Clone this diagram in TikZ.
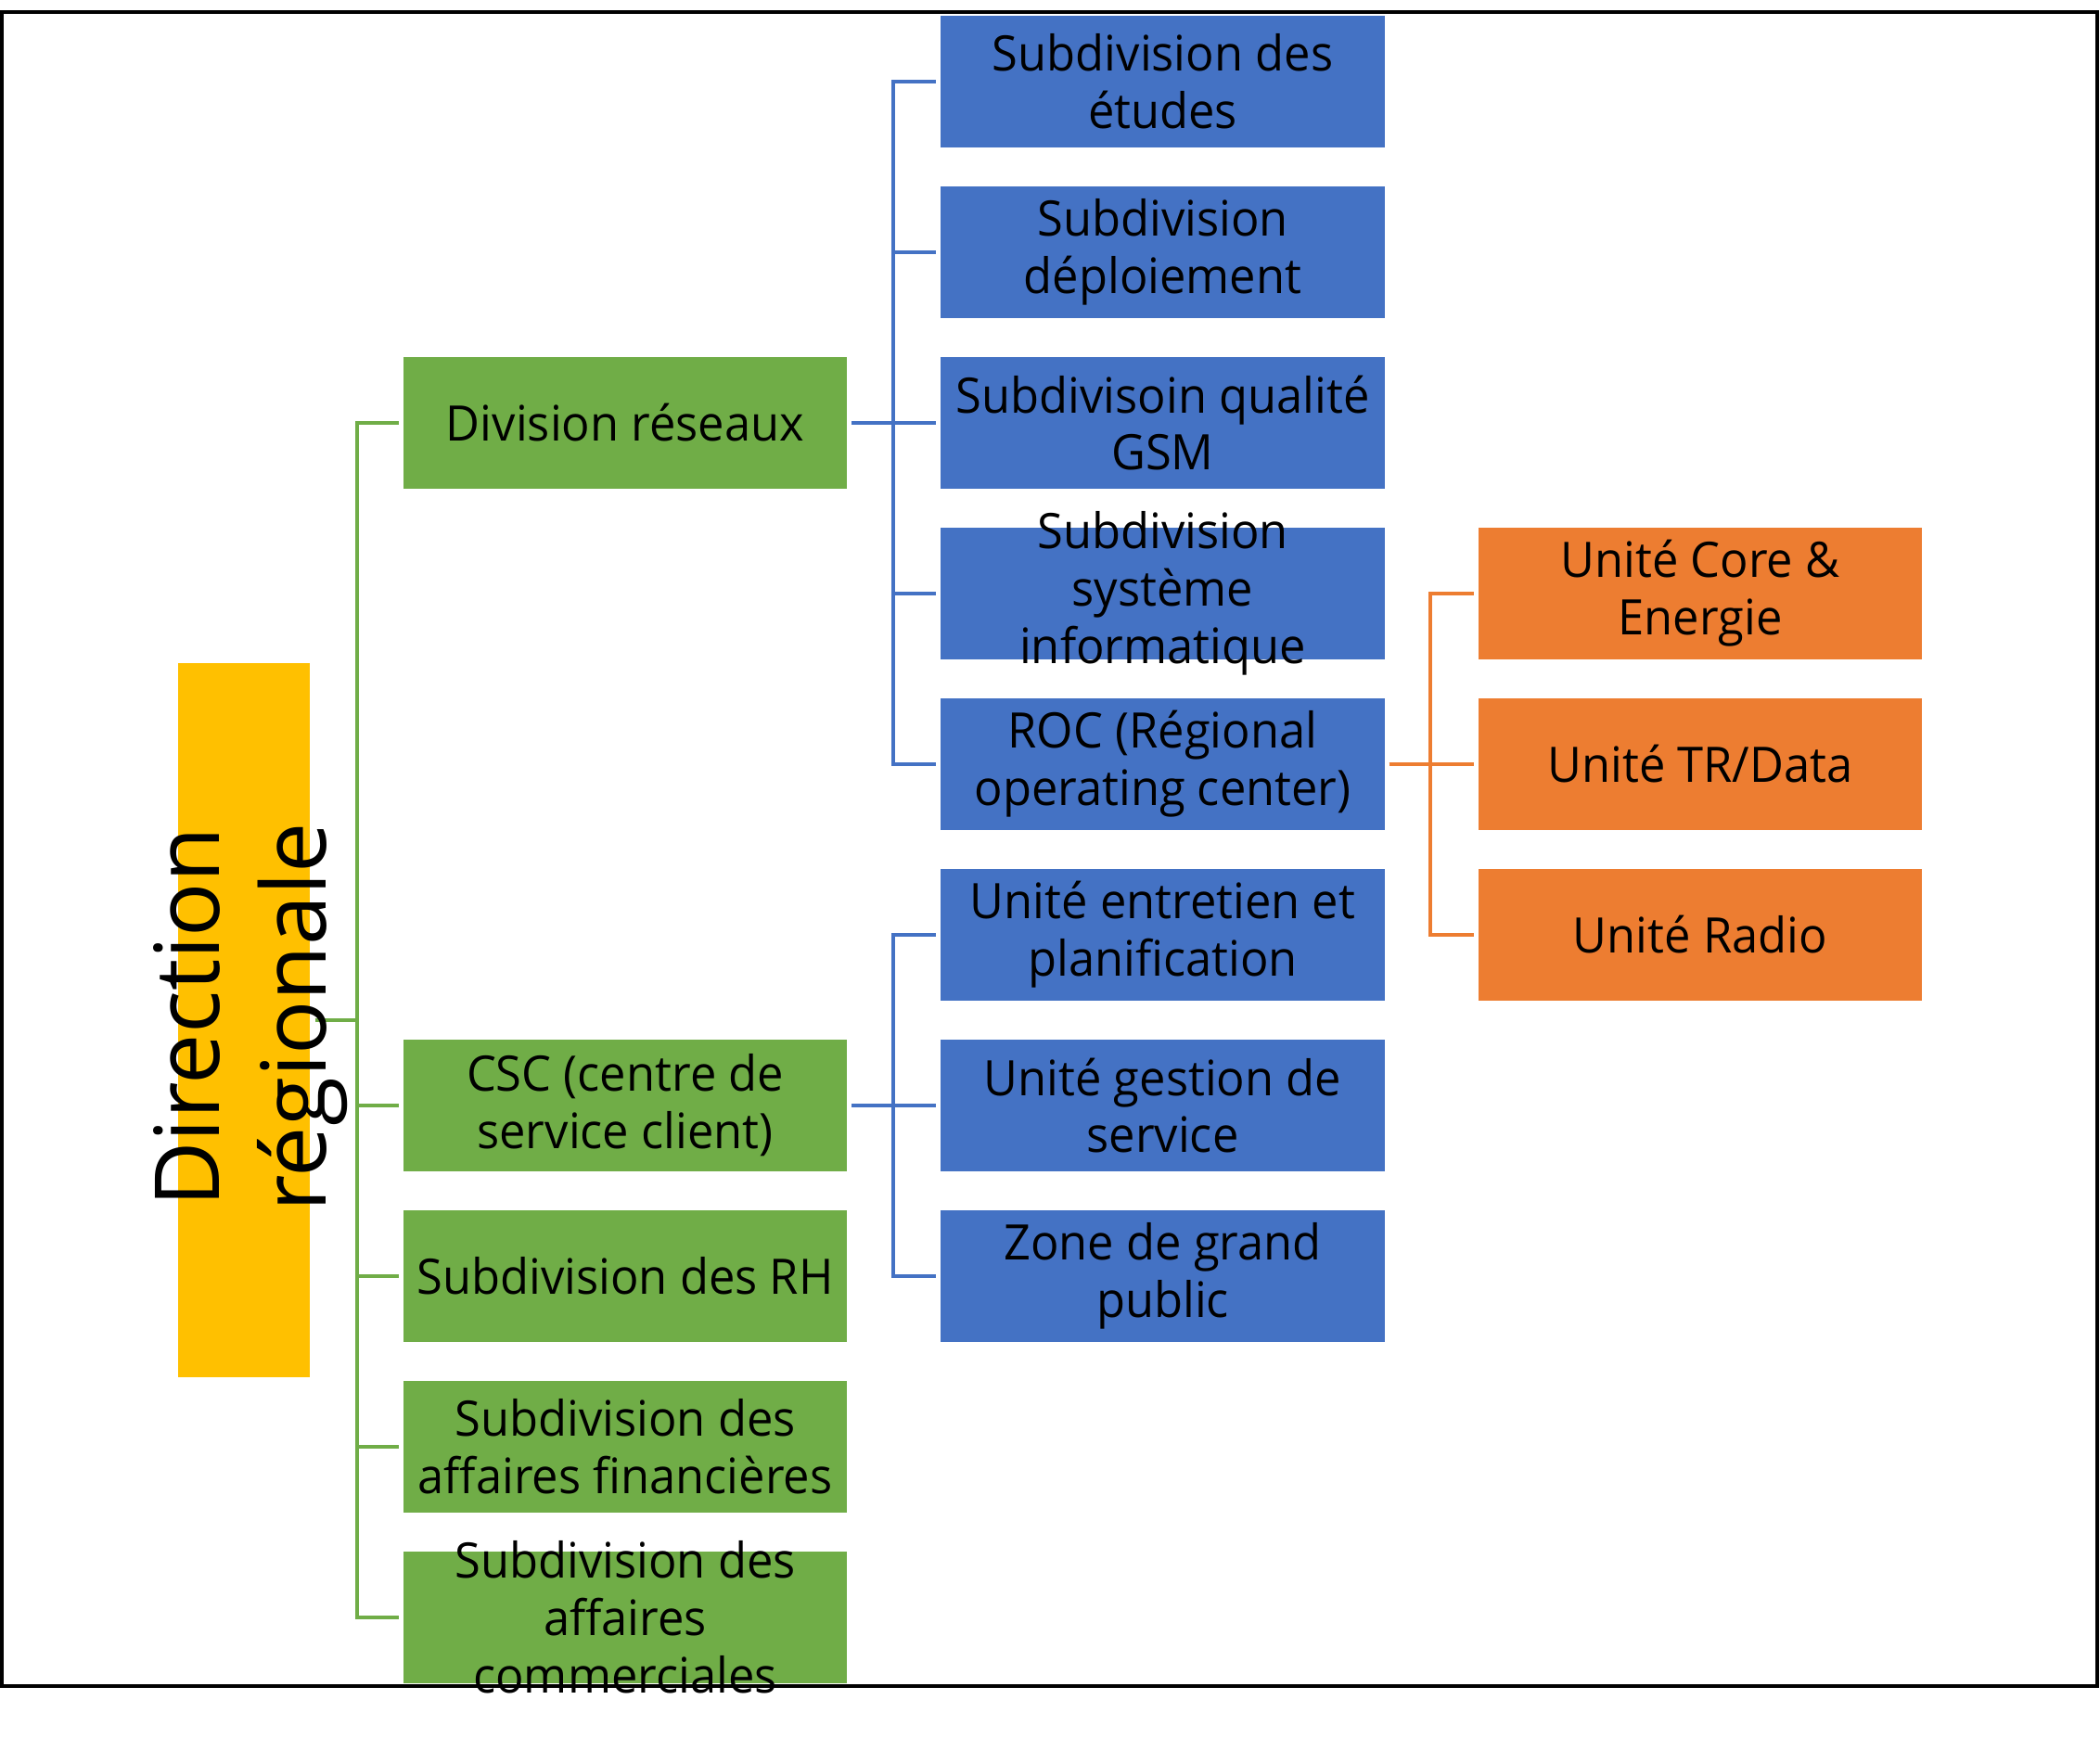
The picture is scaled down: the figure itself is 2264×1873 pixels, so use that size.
\documentclass[tikz,border=0pt]{standalone}
\usepackage{fontspec}
\setmainfont{Open Sans}
\newfontfamily\boxfont{Open Sans}[FakeStretch=0.96]
\usetikzlibrary{backgrounds}

\definecolor{lvlyellow}{HTML}{FFC000}
\definecolor{lvlgreen}{HTML}{70AD47}
\definecolor{lvlblue}{HTML}{4472C4}
\definecolor{lvlorange}{HTML}{ED7D31}

\tikzset{
	unitbox/.style={minimum width=4.78cm, minimum height=1.42cm, inner sep=0pt, outer sep=0pt},
	gbox/.style={unitbox, fill=lvlgreen},
	bbox/.style={unitbox, fill=lvlblue},
	obox/.style={unitbox, fill=lvlorange},
	txt/.style={align=center, inner sep=0pt, font=\boxfont\fontsize{15}{17.6}\selectfont},
	link/.style={line width=1.35pt, shorten <=0.05cm, shorten >=0.05cm},
	glink/.style={link, draw=lvlgreen},
	blink/.style={link, draw=lvlblue},
	olink/.style={link, draw=lvlorange}
}

\begin{document}
\begin{tikzpicture}[x=0.01cm, y=-0.01cm]

	\useasboundingbox (0,0) rectangle (2264,1873);

	% root
	\node[fill=lvlyellow, minimum width=1.42cm, minimum height=7.7cm, inner sep=0pt] (dir) at (263,1100) {};
	\node[rotate=90, align=center, inner sep=0pt, font=\fontsize{27.5}{32.7}\selectfont] (dirtxt) at (270,1097) {Direction\\régionale};

	% level 1
	\node[gbox, label={[txt]center:{Division réseaux}}] (div) at (674,456) {};
	\node[gbox, label={[txt]center:{CSC (centre de\\service client)}}] (csc) at (674,1192) {};
	\node[gbox, label={[txt]center:{Subdivision des RH}}] (rh) at (674,1376) {};
	\node[gbox, label={[txt]center:{Subdivision des\\affaires financières}}] (fin) at (674,1560) {};
	\node[gbox, label={[txt]center:{Subdivision des\\affaires\\commerciales}}] (com) at (674,1744) {};

	% level 2
	\node[bbox, label={[txt]center:{Subdivision des\\études}}] (etu) at (1253.5,88) {};
	\node[bbox, label={[txt]center:{Subdivision\\déploiement}}] (dep) at (1253.5,272) {};
	\node[bbox, label={[txt]center:{Subdivisoin qualité\\GSM}}] (gsm) at (1253.5,456) {};
	\node[bbox, label={[txt]center:{Subdivision\\système\\informatique}}] (sys) at (1253.5,640) {};
	\node[bbox, label={[txt]center:{ROC (Régional\\operating center)}}] (roc) at (1253.5,824) {};
	\node[bbox, label={[txt]center:{Unité entretien et\\planification}}] (ent) at (1253.5,1008) {};
	\node[bbox, label={[txt]center:{Unité gestion de\\service}}] (ges) at (1253.5,1192) {};
	\node[bbox, label={[txt]center:{Zone de grand\\public}}] (zgp) at (1253.5,1376) {};

	% level 3
	\node[obox, label={[txt]center:{Unité Core \&\\Energie}}] (core) at (1833,640) {};
	\node[obox, label={[txt]center:{Unité TR/Data}}] (trd) at (1833,824) {};
	\node[obox, label={[txt]center:{Unité Radio}}] (rad) at (1833,1008) {};

	\coordinate (gtrunk) at (385,0);
	\coordinate (btrunk) at (963,0);
	\coordinate (otrunk) at (1542,0);

	\begin{pgfonlayer}{background}
	\draw[line width=0.95pt] (2,13) rectangle (2261,1818);

	\foreach \c in {div,csc,rh,fin,com}
		\draw[glink] (dir.east) -- (dir.east -| gtrunk) |- (\c.west);
	\foreach \c in {etu,dep,gsm,sys,roc}
		\draw[blink] (div.east) -- (div.east -| btrunk) |- (\c.west);
	\foreach \c in {ent,ges,zgp}
		\draw[blink] (csc.east) -- (csc.east -| btrunk) |- (\c.west);
	\foreach \c in {core,trd,rad}
		\draw[olink] (roc.east) -- (roc.east -| otrunk) |- (\c.west);
	\end{pgfonlayer}

\end{tikzpicture}
\end{document}
